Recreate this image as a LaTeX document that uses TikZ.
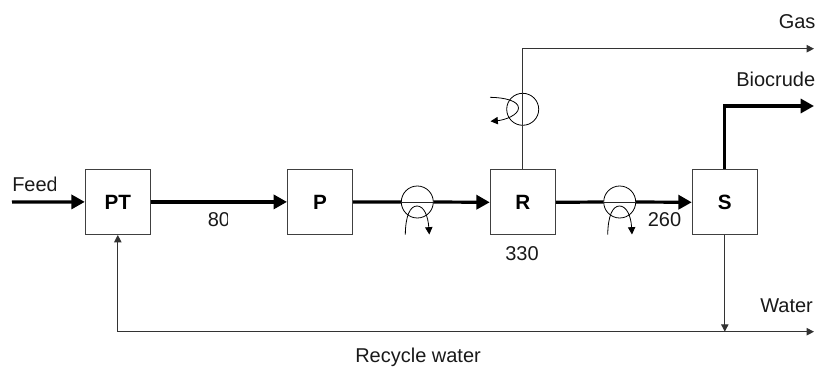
\documentclass[tikz,border=0pt]{standalone}
\usepackage{fontspec}
\setmainfont{Liberation Sans}
\usetikzlibrary{arrows.meta,calc}
\newcommand{\pxfont}{\fontsize{15pt}{17pt}\selectfont}
\newcommand{\pxboldfont}{\fontsize{15.5pt}{17pt}\selectfont\bfseries}
\tikzset{
  x=0.75pt,y=-0.75pt,
  unitbox/.style={draw=black!75,line width=0.8pt,minimum width=48.75pt,minimum height=48.75pt,inner sep=0pt,font=\pxboldfont},
  hx/.style={circle,draw=black,line width=0.6pt,minimum size=24pt,inner sep=0pt},
  thickflow/.style={line width=2.4pt,black,-{Triangle[length=10pt,width=10.5pt]}},
  thickplain/.style={line width=2.4pt,black},
  thinflow/.style={line width=0.75pt,black!80,-{Triangle[length=5.5pt,width=5.5pt]}},
  thinline/.style={line width=0.7pt,black!85},
  utility/.style={line width=0.6pt,black,-{Triangle[length=5.5pt,width=5.5pt]}},
  lbl/.style={font=\pxfont,inner sep=0pt,anchor=base west,text=black!90},
}
\begin{document}
\begin{tikzpicture}
\useasboundingbox (0,0) rectangle (816,367);
\node[unitbox] (PT) at (117.8,201.9) {PT};
\node[unitbox] (P) at (320,201.9) {P};
\node[unitbox] (R) at (522.8,202.3) {R};
\node[unitbox] (S) at (724.8,202.3) {S};
\node[hx] (H1) at (417.3,202) {};
\node[hx] (H2) at (619.7,202) {};
\node[hx] (H3) at (522.7,109.3) {};
\coordinate (feedstart) at (12,202);
\coordinate (gascorner) at (522.8,48.7);
\coordinate (gasend) at (814,48.7);
\coordinate (biocorner) at (724.8,106);
\coordinate (bioend) at (814,106);
\coordinate (watercorner) at (117.8,331.7);
\coordinate (waterjoin) at (724.8,331.7);
\coordinate (waterend) at (814,331.7);
% main thick flows
\draw[thickflow] (feedstart) -- (PT.west);
\draw[thickflow] (PT.east) -- (P.west);
\draw[thickplain] (P.east) -- (H1.west);
\draw[thinline] (H1.west) -- (H1.east);
\draw[thickflow] (H1.east) -- (R.west);
\draw[thickplain] (R.east) -- (H2.west);
\draw[thinline] (H2.west) -- (H2.east);
\draw[thickflow] (H2.east) -- (S.west);
% gas
\draw[thinflow] (R.north) -- (gascorner) -- (gasend);
% biocrude
\draw[thickflow] (S.north) -- (biocorner) -- (bioend);
% water
\draw[thinflow] (S.south) -- (waterjoin);
\draw[thinflow] (watercorner) -- (PT.south);
\draw[thinflow] (watercorner) -- (waterend);
% utility loops
\coordinate (u1a) at (405.3,234.7);
\coordinate (u1b) at (429.3,234.5);
\coordinate (u2a) at (607.7,234.7);
\coordinate (u2b) at (632,234.5);
\coordinate (u3a) at (490,97.3);
\coordinate (u3b) at (490.5,121.3);
\draw[utility] (u1a) .. controls (405.5,216) and (410,206) .. (417,206) .. controls (424,206) and (428,216) .. (u1b);
\draw[utility] (u2a) .. controls (608,216) and (612.5,206) .. (619.5,206) .. controls (626.5,206) and (631,216) .. (u2b);
\draw[utility] (u3a) .. controls (505,97.5) and (518.5,101) .. (518.5,108) .. controls (518.5,115) and (505,120) .. (u3b);
% labels
\begin{scope}
\clip (0,170) rectangle (55,195);
\node[lbl] (feedlbl) at (12,191.5) {Feed};
\end{scope}
\begin{scope}
\clip (200,205) rectangle (227,235);
\node[lbl] (tlbl) at (207.5,226) {80};
\end{scope}
\node[lbl] (rlbl) at (505,260) {330};
\node[lbl] (hlbl) at (647.5,226) {260};
\begin{scope}
\clip (760,0) rectangle (814,40);
\node[lbl] (gaslbl) at (778.5,29) {Gas};
\end{scope}
\node[lbl] (biolbl) at (736,87) {Biocrude};
\begin{scope}
\clip (750,290) rectangle (812,325);
\node[lbl] (waterlbl) at (760,312) {Water};
\end{scope}
\node[lbl] (reclbl) at (355,362.3) {Recycle water};
\end{tikzpicture}
\end{document}
